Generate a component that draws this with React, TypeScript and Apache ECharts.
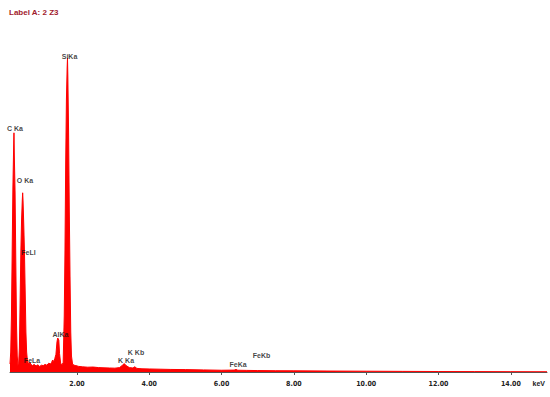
import React, { useEffect, useRef } from "react";
import * as echarts from "echarts";

// Spectrum: energy (keV) and counts
const energies: number[] = [
  0.15, 0.17, 0.19, 0.21, 0.23, 0.25, 0.26, 0.27, 0.29, 0.31, 0.33, 0.35, 0.37, 0.39,
  0.41, 0.43, 0.45, 0.47, 0.49, 0.5, 0.51, 0.53, 0.55, 0.57, 0.59, 0.61, 0.63, 0.66,
  0.7, 0.73, 0.77, 0.82, 0.87, 0.92, 0.97, 1.02, 1.07, 1.12, 1.17, 1.22, 1.27, 1.3,
  1.33, 1.36, 1.39, 1.42, 1.45, 1.47, 1.48, 1.5, 1.52, 1.55, 1.59, 1.62, 1.65, 1.67,
  1.69, 1.71, 1.73, 1.74, 1.75, 1.77, 1.79, 1.81, 1.83, 1.85, 1.88, 1.92, 1.97, 2.05,
  2.15, 2.3, 2.45, 2.6, 2.75, 2.9, 3.05, 3.18, 3.26, 3.31, 3.36, 3.45, 3.55, 3.6,
  3.66, 3.8, 4.0, 4.3, 4.6, 5.0, 5.5, 6.0, 6.35, 6.4, 6.45, 6.7, 7.0, 7.5, 8.0,
  9.0, 10.0, 11.0, 12.0, 13.0, 14.0, 15.0,
];
const counts: number[] = [
  100, 250, 700, 1500, 2300, 2800, 2990, 2700, 2250, 1400, 600, 200, 80, 110,
  300, 900, 1500, 1900, 2150, 2240, 2150, 1850, 1500, 1000, 500, 250, 150, 100,
  120, 95, 80, 95, 75, 90, 70, 85, 80, 95, 85, 110, 100, 120,
  150, 130, 170, 220, 380, 425, 430, 400, 230, 110, 90, 120, 700, 1500,
  2600, 3400, 3800, 3925, 3700, 3000, 2000, 1200, 500, 200, 100, 85, 80, 70,
  65, 60, 62, 55, 52, 50, 48, 55, 85, 105, 80, 55, 50, 65,
  45, 40, 38, 35, 32, 30, 26, 22, 24, 32, 22, 20, 18, 16, 15,
  12, 10, 8, 6, 5, 4, 3,
];

// Peak annotations: name, energy (keV), counts
const peakNames: string[] = ["SiKa", "C Ka", "O Ka", "FeLl", "AlKa", "FeLa", "K Ka", "K Kb", "FeKa", "FeKb"];
const peakEnergies: number[] = [1.796, 0.288, 0.565, 0.662, 1.547, 0.759, 3.359, 3.635, 6.457, 7.107];
const peakCounts: number[] = [3950, 3040, 2390, 1490, 475, 138, 144, 250, 100, 212];

const tickValues: number[] = [2, 4, 6, 8, 10, 12, 14];

export default function App() {
  const ref = useRef<HTMLDivElement>(null);
  useEffect(() => {
    if (!ref.current) return;
    const chart = echarts.init(ref.current, undefined, { renderer: "svg" });
    const spectrum = energies.map((e, i) => [e, counts[i]]);
    const peaks = peakNames.map((n, i) => ({ name: n, value: [peakEnergies[i], peakCounts[i]] }));
    chart.setOption({
      animation: false,
      backgroundColor: "#ffffff",
      title: {
        text: "Label A: 2 Z3",
        left: 4,
        top: 3,
        textStyle: {
          color: "#a11a2c",
          fontSize: 8,
          fontWeight: "bold",
          fontFamily: "Liberation Sans, Arial, sans-serif",
        },
      },
      grid: { left: 10, right: 3, top: 18, bottom: 25 },
      xAxis: {
        type: "value",
        min: 0.15,
        max: 15,
        offset: 2,
        splitLine: { show: false },
        axisLine: { show: true, lineStyle: { color: "#555555", width: 1 } },
        axisTick: {
          show: true,
          customValues: tickValues,
          length: 3,
          lineStyle: { color: "#555555" },
        },
        axisLabel: {
          show: true,
          customValues: tickValues,
          margin: 6,
          formatter: (v: number) => v.toFixed(2),
          color: "#222222",
          fontSize: 7,
          fontWeight: "bold",
          fontFamily: "Liberation Sans Narrow, DejaVu Sans Condensed, sans-serif",
        },
      },
      yAxis: {
        type: "value",
        min: 0,
        max: 4425,
        show: false,
        splitLine: { show: false },
      },
      graphic: [
        {
          type: "text",
          right: 5,
          top: 380,
          style: {
            text: "keV",
            fill: "#222222",
            fontSize: 7,
            fontWeight: "bold",
            fontFamily: "Liberation Sans, Arial, sans-serif",
          },
        },
      ],
      series: [
        {
          type: "line",
          data: spectrum,
          symbol: "none",
          lineStyle: { color: "#ff0000", width: 1 },
          areaStyle: { color: "#ff0000", opacity: 1 },
          z: 2,
        },
        {
          type: "scatter",
          data: peaks,
          symbolSize: 0,
          z: 5,
          itemStyle: { color: "transparent" },
          label: {
            show: true,
            position: "inside",
            formatter: "{b}",
            color: "#111111",
            textBorderWidth: 0,
            textBorderColor: "transparent",
            fontSize: 7,
            fontWeight: "bold",
            fontFamily: "Liberation Sans, Arial, sans-serif",
          },
        },
      ],
    });
    return () => chart.dispose();
  }, []);
  return <div ref={ref} style={{ width: 550, height: 397, position: "absolute", left: 0, top: 0 }} />;
}
